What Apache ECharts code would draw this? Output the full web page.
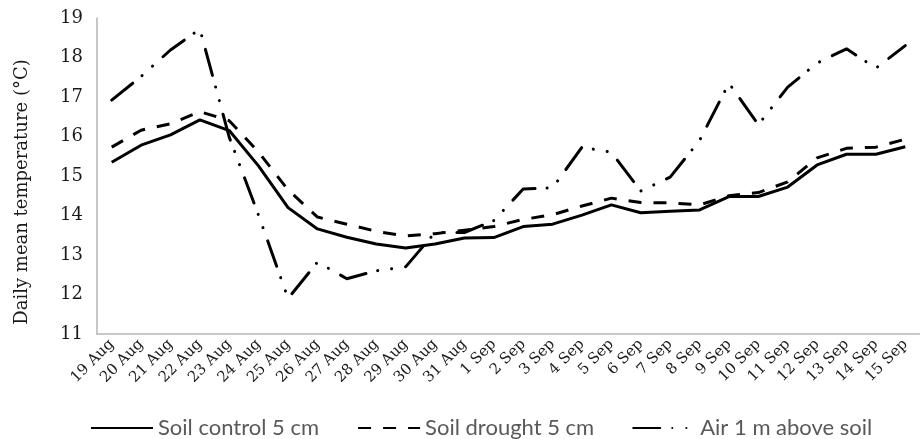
<!DOCTYPE html>
<html>
<head>
<meta charset="utf-8">
<script src="https://cdn.jsdelivr.net/npm/echarts@6/dist/echarts.min.js"></script>
<style>
  html, body { margin: 0; padding: 0; background: #fff; }
  #chart { width: 920px; height: 439px; }
</style>
</head>
<body>
<div id="chart"></div>
<script>
// Daily dates, 19 Aug - 15 Sep
const categories = [
  '19 Aug', '20 Aug', '21 Aug', '22 Aug', '23 Aug', '24 Aug', '25 Aug',
  '26 Aug', '27 Aug', '28 Aug', '29 Aug', '30 Aug', '31 Aug',
  '1 Sep', '2 Sep', '3 Sep', '4 Sep', '5 Sep', '6 Sep', '7 Sep', '8 Sep',
  '9 Sep', '10 Sep', '11 Sep', '12 Sep', '13 Sep', '14 Sep', '15 Sep'
];

// Daily mean temperature (°C)
const soilControl = [
  15.35, 15.78, 16.04, 16.42, 16.15, 15.25, 14.2,
  13.66, 13.45, 13.28, 13.18, 13.28, 13.43,
  13.44, 13.72, 13.78, 14.01, 14.27, 14.07, 14.11, 14.14,
  14.48, 14.48, 14.72, 15.28, 15.55, 15.55, 15.74
];

const soilDrought = [
  15.73, 16.16, 16.32, 16.63, 16.4, 15.6, 14.65,
  13.96, 13.78, 13.6, 13.48, 13.54, 13.63,
  13.72, 13.9, 14.02, 14.24, 14.44, 14.33, 14.32, 14.27,
  14.5, 14.58, 14.85, 15.46, 15.7, 15.73, 15.93
];

const airAboveSoil = [
  16.92, 17.52, 18.19, 18.72, 15.98, 14.0, 11.9,
  12.82, 12.4, 12.6, 12.7, 13.57, 13.57,
  13.87, 14.67, 14.7, 15.73, 15.6, 14.62, 14.97, 15.9,
  17.35, 16.3, 17.25, 17.86, 18.22, 17.73, 18.3
];

const yTicks = { min: 11, max: 19, interval: 1 };

const serif = '"DejaVu Serif", "Liberation Serif", serif';
const axisGrey = '#b5b5b5';

function lineSeries(name, values, lineStyle) {
  return {
    name: name,
    type: 'line',
    data: values,
    symbol: 'none',
    showSymbol: false,
    smooth: false,
    lineStyle: Object.assign({ color: '#000', width: 3 }, lineStyle),
    itemStyle: { color: '#000' },
    emphasis: { disabled: true }
  };
}

const chart = echarts.init(document.getElementById('chart'), null, { renderer: 'canvas' });

chart.setOption({
  animation: false,
  backgroundColor: '#fff',
  grid: { left: 97, top: 18, width: 831, bottom: 105, containLabel: false },
  xAxis: {
    type: 'category',
    data: categories,
    boundaryGap: true,
    axisLine: { show: true, lineStyle: { color: axisGrey, width: 1.5 } },
    axisTick: { show: false },
    axisLabel: {
      interval: 0,
      rotate: 45,
      margin: 8,
      color: '#1a1a1a',
      fontFamily: serif,
      fontSize: 15
    },
    splitLine: { show: false }
  },
  yAxis: {
    type: 'value',
    min: yTicks.min,
    max: yTicks.max,
    interval: yTicks.interval,
    axisLine: { show: true, lineStyle: { color: axisGrey, width: 1.5 } },
    axisTick: { show: false },
    axisLabel: { color: '#1a1a1a', fontFamily: serif, fontSize: 18, margin: 14 },
    splitLine: { show: false }
  },
  graphic: [{
    type: 'text',
    x: 22,
    y: 192,
    rotation: Math.PI / 2,
    style: {
      text: 'Daily mean temperature (°C)',
      fill: '#1a1a1a',
      font: '18px ' + serif,
      align: 'center',
      verticalAlign: 'middle'
    }
  }],
  legend: {
    left: 85,
    top: 412,
    itemWidth: 62,
    itemHeight: 14,
    itemGap: 38,
    itemStyle: { opacity: 0 },
    textStyle: { color: '#595959', fontFamily: 'Lato, "Open Sans", sans-serif', fontSize: 22 },
    data: ['Soil control 5 cm', 'Soil drought 5 cm', 'Air 1 m above soil']
  },
  series: [
    lineSeries('Soil control 5 cm', soilControl, { type: 'solid' }),
    lineSeries('Soil drought 5 cm', soilDrought, { type: [13, 12], cap: 'butt' }),
    lineSeries('Air 1 m above soil', airAboveSoil, { type: [27, 12, 0.1, 14, 0.1, 14], cap: 'round' })
  ]
});
</script>
</body>
</html>
